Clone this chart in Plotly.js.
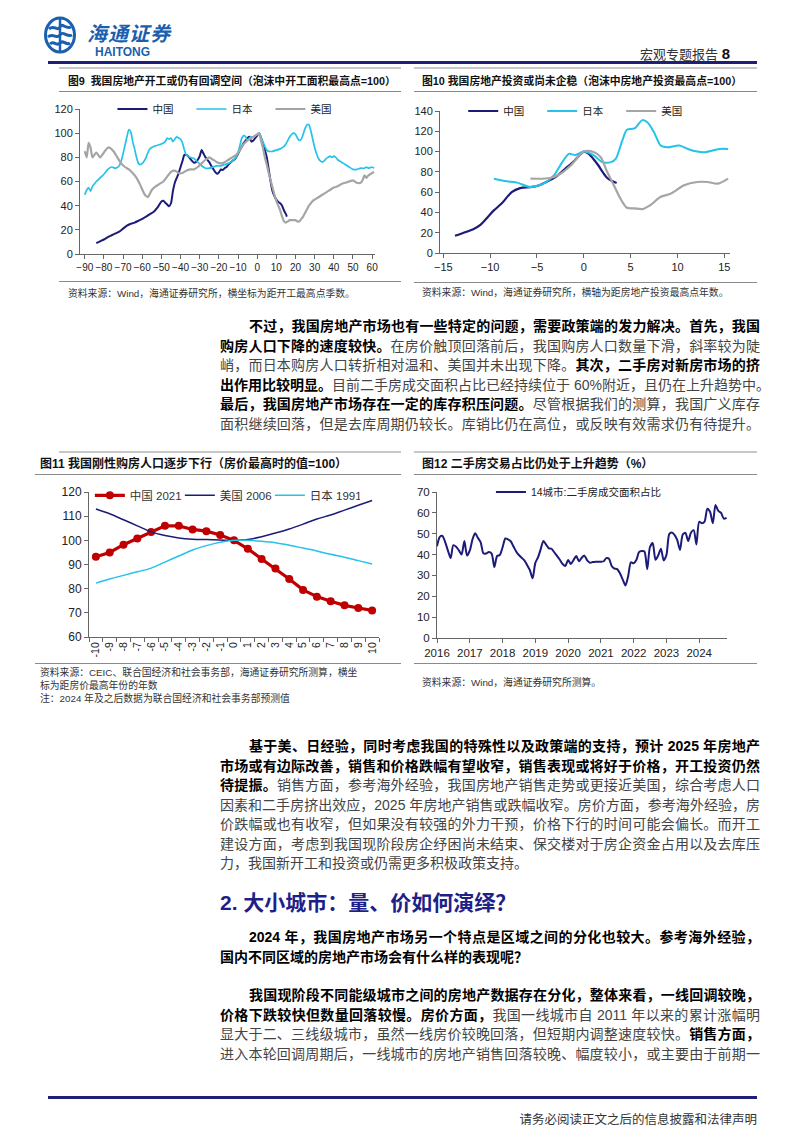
<!DOCTYPE html>
<html><head><meta charset="utf-8">
<script src="https://cdn.plot.ly/plotly-3.0.1.min.js"></script>
<style>
body{margin:0;background:#fff;}
#page{position:relative;width:802px;height:1133px;overflow:hidden;background:#fff;font-family:"Liberation Sans","Noto Sans CJK SC",sans-serif;}
.ct{position:absolute;font-weight:bold;color:#111;white-space:nowrap;line-height:14px;}
.src{position:absolute;font-size:9.8px;color:#333;white-space:nowrap;line-height:13px;}
.hl{position:absolute;height:1px;background:#8a8a8a;}
.gl{position:absolute;height:2px;background:#c8c8c8;}
.para{position:absolute;left:220px;width:540px;font-size:14px;line-height:19.5px;color:#444;}
.para div{text-align:justify;text-align-last:justify;white-space:nowrap;}
.para div.last{text-align-last:left;}
.para b{color:#000;font-weight:bold;}
.ind{padding-left:29px;}
.plot{position:absolute;}
</style></head>
<body><div id="page">
<!-- header -->
<svg style="position:absolute;left:44px;top:16px" width="32" height="38" viewBox="0 0 32 38">
 <ellipse cx="16" cy="19" rx="14.5" ry="17" fill="none" stroke="#1b5fae" stroke-width="3"/>
 <path d="M5 13 C10 8,14 16,16 11 C18 6,22 14,27 11" fill="none" stroke="#1b5fae" stroke-width="3"/>
 <path d="M4 21 C9 16,13 24,16 19 C19 14,23 22,28 19" fill="none" stroke="#1b5fae" stroke-width="3"/>
 <path d="M6 28 C10 24,13 31,16 27 C19 23,22 30,26 27" fill="none" stroke="#1b5fae" stroke-width="3"/>
 <line x1="16" y1="3" x2="16" y2="35" stroke="#1b5fae" stroke-width="2.5"/>
</svg>
<div style="position:absolute;left:87px;top:24px;font-size:20px;line-height:20px;font-weight:bold;font-style:italic;color:#1b5fae;letter-spacing:1px;">海通证券</div>
<div style="position:absolute;left:95px;top:46px;font-size:12px;line-height:12px;font-weight:bold;color:#1b5fae;">HAITONG</div>
<div style="position:absolute;left:640px;top:44px;font-size:13px;color:#333;white-space:nowrap;">宏观专题报告 <b style="font-size:15px;color:#111">8</b></div>
<div style="position:absolute;left:48px;top:61px;width:709px;height:3px;background:#1f1f7a;"></div>
<div class="gl" style="left:59px;top:67px;width:342px;"></div>
<div class="gl" style="left:414px;top:67px;width:343px;"></div>

<!-- chart 9 / 10 titles -->
<div class="ct" style="left:68px;top:74px;font-size:10.8px;">图9&nbsp;&nbsp;我国房地产开工或仍有回调空间（泡沫中开工面积最高点=100）</div>
<div class="hl" style="left:59px;top:91px;width:342px;"></div>
<div class="ct" style="left:422px;top:74px;font-size:10.8px;">图10 我国房地产投资或尚未企稳（泡沫中房地产投资最高点=100）</div>
<div class="hl" style="left:414px;top:91px;width:343px;"></div>
<div id="c9" class="plot" style="left:30px;top:65px;"></div>
<div id="c10" class="plot" style="left:405px;top:65px;"></div>
<div class="hl" style="left:59px;top:281px;width:342px;"></div>
<div class="src" style="left:68px;top:287px;">资料来源：Wind，海通证券研究所，横坐标为距开工最高点季数。</div>
<div class="hl" style="left:414px;top:282px;width:343px;"></div>
<div class="src" style="left:422px;top:286px;">资料来源：Wind，海通证券研究所，横轴为距房地产投资最高点年数。</div>

<!-- paragraph 1 -->
<div class="para" style="top:317px;">
<div class="ind"><b>不过，我国房地产市场也有一些特定的问题，需要政策端的发力解决。首先，我国</b></div>
<div><b>购房人口下降的速度较快。</b>在房价触顶回落前后，我国购房人口数量下滑，斜率较为陡</div>
<div>峭，而日本购房人口转折相对温和、美国并未出现下降。<b>其次，二手房对新房市场的挤</b></div>
<div><b>出作用比较明显。</b>目前二手房成交面积占比已经持续位于 60%附近，且仍在上升趋势中。</div>
<div><b>最后，我国房地产市场存在一定的库存积压问题。</b>尽管根据我们的测算，我国广义库存</div>
<div>面积继续回落，但是去库周期仍较长。库销比仍在高位，或反映有效需求仍有待提升。</div>
</div>

<!-- chart 11 / 12 titles -->
<div class="gl" style="left:59px;top:451px;width:342px;"></div>
<div class="gl" style="left:414px;top:451px;width:343px;"></div>
<div class="ct" style="left:40px;top:457px;font-size:12px;">图11 我国刚性购房人口逐步下行（房价最高时的值=100）</div>
<div class="hl" style="left:35px;top:474px;width:366px;"></div>
<div class="ct" style="left:422px;top:457px;font-size:12px;">图12 二手房交易占比仍处于上升趋势（%）</div>
<div class="hl" style="left:414px;top:474px;width:343px;"></div>
<div id="c11" class="plot" style="left:30px;top:448px;"></div>
<div id="c12" class="plot" style="left:405px;top:448px;"></div>
<div class="hl" style="left:35px;top:663px;width:366px;"></div>
<div class="src" style="left:40px;top:666px;">资料来源：CEIC、联合国经济和社会事务部，海通证券研究所测算，横坐<br>标为距房价最高年份的年数<br>注：2024 年及之后数据为联合国经济和社会事务部预测值</div>
<div class="hl" style="left:414px;top:663px;width:343px;"></div>
<div class="src" style="left:422px;top:676px;">资料来源：Wind，海通证券研究所测算。</div>

<!-- paragraph 2 -->
<div class="para" style="top:737px;">
<div class="ind"><b>基于美、日经验，同时考虑我国的特殊性以及政策端的支持，预计 2025 年房地产</b></div>
<div><b>市场或有边际改善，销售和价格跌幅有望收窄，销售表现或将好于价格，开工投资仍然</b></div>
<div><b>待提振。</b>销售方面，参考海外经验，我国房地产销售走势或更接近美国，综合考虑人口</div>
<div>因素和二手房挤出效应，2025 年房地产销售或跌幅收窄。房价方面，参考海外经验，房</div>
<div>价跌幅或也有收窄，但如果没有较强的外力干预，价格下行的时间可能会偏长。而开工</div>
<div>建设方面，考虑到我国现阶段房企纾困尚未结束、保交楼对于房企资金占用以及去库压</div>
<div class="last">力，我国新开工和投资或仍需更多积极政策支持。</div>
</div>

<div style="position:absolute;left:220px;top:886px;font-size:21px;font-weight:bold;color:#1f1f8a;white-space:nowrap;">2. 大小城市：量、价如何演绎？</div>

<div class="para" style="top:928px;">
<div class="ind"><b>2024 年，我国房地产市场另一个特点是区域之间的分化也较大。参考海外经验，</b></div>
<div class="last"><b>国内不同区域的房地产市场会有什么样的表现呢？</b></div>
</div>
<div class="para" style="top:986px;">
<div class="ind"><b>我国现阶段不同能级城市之间的房地产数据存在分化，整体来看，一线回调较晚，</b></div>
<div><b>价格下跌较快但数量回落较慢。房价方面，</b>我国一线城市自 2011 年以来的累计涨幅明</div>
<div>显大于二、三线级城市，虽然一线房价较晚回落，但短期内调整速度较快。<b>销售方面，</b></div>
<div>进入本轮回调周期后，一线城市的房地产销售回落较晚、幅度较小，或主要由于前期一</div>
</div>

<div style="position:absolute;left:48px;top:1096px;width:709px;height:3px;background:#1f1f7a;"></div>
<div style="position:absolute;right:45px;top:1109px;font-size:12.5px;color:#333;white-space:nowrap;">请务必阅读正文之后的信息披露和法律声明</div>
</div>

<script>
// ---------- DATA ----------
// Chart 9: quarters from peak of housing starts (peak = 100)
const c9_cn_x = [-84,-82,-80,-78,-76,-74,-72,-70,-68,-66,-64,-62,-60,-58,-56,-54,-52,-50,-49,-48,-47,-46,-45,-44,-43,-42,-41,-40,-39,-38,-37,-36,-35,-34,-33,-32,-31,-30,-29,-28,-27,-26,-25,-24,-23,-22,-21,-20,-19,-18,-17,-16,-15,-14,-13,-12,-11,-10,-9,-8,-7,-6,-5,-4,-3,-2,-1,0,1,2,3,4,5,6,7,8,9,10,11,12,13,14,15,15.5];
const c9_cn_y = [9,10.5,12,14,15.5,17,18.5,21,23.5,25,26,27.5,29,31,33,35,38.5,43.5,44,42.5,41,39.5,42,52,59,63,67,72,77,82,82,81,79,77,75.5,76,78,81,86,83,80,78,76,73,70.5,68,66.5,67.5,70,69.5,71,72,74,75.5,77,78,80,83,86,89,92,94,96,97,93,94,96,98,100,96,91,86,80,70,60,52,48,45,43,42,40,36,33,31];
const c9_jp_x = [-90,-89,-88,-87,-86,-85,-84,-82,-80,-78,-76,-74,-72,-71,-70,-69,-68,-67,-66,-65,-64,-63,-62,-61,-60,-59,-58,-57,-56,-54,-52,-50,-48,-47,-46,-45,-44,-43,-42,-41,-40,-39,-38,-37,-36,-35,-33,-31,-29,-27,-25,-23,-21,-19,-17,-15,-13,-11,-10,-9,-8,-7,-6,-5,-4,-3,-2,-1,0,1,2,3,4,5,6,8,10,12,14,15,16,17,18,19,20,21,22,23,24,25,26,27,28,29,30,31,32,33,34,35,36,37,38,39,40,41,42,43,44,46,48,50,52,54,56,57,58,60,61];
const c9_jp_y = [49,53,55,52,56,58,60,63,66,70,72,71,73,77,83,90,97,103,101,93,87,80,75,74,75,77,80,84,87,89,90,91,93,96,95,96,93,95,97,96,95,92,86,82,81,80,79,76,73,71,71,72,73,73,74,75,77,80,84,90,96,98,97,94,96,97,97,98,99,100,97,93,89,86,85,85,86,87,89,91,94,97,99,100,99,96,94,95,99,104,107,107,102,95,88,83,79,77,76,77,79,80,81,80,81,80,78,77,76,74,72,70,70,71,71,72,71,72,71];
const c9_us_x = [-90,-89,-88,-87,-86,-85,-84,-83,-82,-80,-78,-77,-75,-73,-71,-69,-67,-65,-63,-61,-59,-58,-57,-56,-55,-53,-51,-49,-47,-45,-43,-41,-39,-37,-35,-33,-31,-29,-27,-25,-23,-21,-19,-17,-15,-13,-11,-9,-7,-5,-3,-1,0,1,2,3,4,5,6,7,8,9,10,11,12,13,14,15,16,17,18,19,20,21,22,23,24,25,26,27,28,29,30,32,34,36,38,40,42,44,46,48,50,52,54,55,56,57,58,59,60,61];
const c9_us_y = [85,80,92,88,80,82,84,82,80,84,88,88,85,80,75,72,70,67,63,57,50,48,47,50,53,56,58,60,64,68,69,67,67,69,70,70,72,75,78,80,78,76,75,76,78,80,82,86,91,94,96,98,99,100,94,88,80,74,67,61,55,49,44,40,36,31,27,26,27,28,28,28,28,27,27,29,31,34,37,40,42,44,45,47,49,51,53,55,56,58,59,60,61,59,59,61,65,63,65,66,67,68];
const c9_xticks = [-90,-80,-70,-60,-50,-40,-30,-20,-10,0,10,20,30,40,50,60];

// Chart 10: years from peak of real-estate investment (peak = 100)
const c10_cn_x = [-13.75,-12.5,-11.8,-11,-10.2,-9.6,-8.75,-7.7,-6.8,-5.7,-5,-4,-3,-2,-1,0,0.5,1,1.5,2,2.5,3,3.5];
const c10_cn_y = [17,21,23.5,28,36,42,49,60,64,65,66,70,75,83,91,100,98,93,87,80,74,71,69];
const c10_jp_x = [-9.6,-8.2,-7.1,-5.7,-4.1,-3.2,-2.3,-1.6,-0.9,0,1.1,1.96,2.9,3.4,4.1,4.6,5.4,6.25,6.8,7.5,8.2,8.9,10.2,11.1,12.1,12.9,13.75,14.5,15.4];
const c10_jp_y = [73.3,70.7,69.4,65,69.4,76.5,89.6,97.7,96.7,100,96,89.6,89.6,92.8,110.7,121.5,122.8,131,128.7,118.9,105.9,104.2,105.9,102.6,100,99.3,101,102.6,102.6];
const c10_us_x = [-5.7,-3.6,-2.5,-1.4,0,1.1,1.8,2.5,3.2,3.9,4.6,5.4,6.25,7.1,8.2,9.3,10.7,12.1,13.2,14.3,15.4];
const c10_us_y = [73.3,73.9,78.2,86.3,100,99.3,94.5,79.8,66.8,53.7,44.6,44,43.3,47.2,55.4,58.6,66.8,70,70,68.4,73.3];

// Chart 11: years from house-price peak (value at peak = 100)
const c11_x = ['-10','-9','-8','-7','-6','-5','-4','-3','-2','-1','0','1','2','3','4','5','6','7','8','9','10'];
const c11_cn = [93.2,95,98.2,100.8,103.4,106,106,104.5,103.8,102.2,100,96.5,92.3,88.3,84,79.5,76.7,74.8,73.1,72,71];
const c11_us = [113,111,108.5,106,103.5,102,101,100.5,100.3,100.1,100,100.3,101.5,103,104.7,106.7,108.8,110.5,112.5,114.5,116.5];
const c11_jp = [82.3,84,85.5,87,88.5,91,93.5,96,97.8,99.2,100,100,99.6,99,98,96.8,95.6,94.2,93,91.6,90.2];

// Chart 12: 14 cities, second-hand share of transaction area (%), monthly from 2016-01
const c12_start = [2016, 1];
const c12_vals = [44,48.5,49,46,42,38.3,44.5,43.7,42,40,46.5,39.5,
  42,47.5,50.2,48,46,40.6,40.5,41.2,40.5,34,39.3,39.8,
  43.5,47.7,47.3,46.4,44,41.5,39.8,38.5,37.2,35,32.5,28.6,
  36,38.8,42.5,46.5,44.8,43,42.8,41,39.3,37.5,35.5,34.5,
  37.4,35.5,37.3,39.3,36.8,38.5,39.5,37.2,36.1,36.4,36.6,36.6,
  36.6,36.8,38.3,38,34.5,33.3,33,31,28,25.2,29.8,36.3,
  35.8,37.5,41.2,41.7,41.5,33,43.5,45.5,37.5,39.6,42.8,37.2,
  39.8,49.8,50.6,49.5,47,42.2,49.5,50.4,46.5,50.5,51.7,44.8,
  55.7,55,55.8,62,60.5,55,63.8,61,60,57.2,57.6];
const c12_years = ['2016','2017','2018','2019','2020','2021','2022','2023','2024'];

// ---------- STYLE ----------
const NAVY = '#1c1c78', CYAN = '#25c2ea', GRAY = '#a5a5a5', RED = '#c00000';
const FONT = '"Liberation Sans","Noto Sans CJK SC",sans-serif';
const AX = {showline:true, linecolor:'#666', linewidth:1, ticks:'outside', ticklen:4, tickcolor:'#666', showgrid:false, zeroline:false, tickfont:{size:11, color:'#222'}, fixedrange:true};
function lay(w,h,m,leg){
  return {width:w,height:h,margin:m,paper_bgcolor:'rgba(0,0,0,0)',plot_bgcolor:'rgba(0,0,0,0)',
    font:{family:FONT,size:11,color:'#222'},showlegend:true,
    legend:Object.assign({orientation:'h',xanchor:'left',yanchor:'middle',bgcolor:'rgba(0,0,0,0)',
      font:{size:10.5,color:'#222'},itemwidth:30,entrywidthmode:'pixels'},leg)};
}
const cfg = {displayModeBar:false, staticPlot:true};

// Chart 9
Plotly.newPlot('c9', [
  {x:c9_cn_x,y:c9_cn_y,name:'中国',mode:'lines',line:{color:NAVY,width:2,shape:'spline',smoothing:0.6}},
  {x:c9_jp_x,y:c9_jp_y,name:'日本',mode:'lines',line:{color:CYAN,width:1.7,shape:'spline',smoothing:0.6}},
  {x:c9_us_x,y:c9_us_y,name:'美国',mode:'lines',line:{color:GRAY,width:2.2,shape:'spline',smoothing:0.6}}
], Object.assign(lay(370,215,{l:50,r:25,t:44,b:26},{x:0.11,y:1,entrywidth:34}),{
  xaxis:Object.assign({},AX,{range:[-92.5,61.5],tickvals:c9_xticks,tickangle:0,tickfont:{size:10,color:'#222'}}),
  yaxis:Object.assign({},AX,{range:[0,120],dtick:20})
}), cfg);

// Chart 10
Plotly.newPlot('c10', [
  {x:c10_cn_x,y:c10_cn_y,name:'中国',mode:'lines',line:{color:NAVY,width:2.2,shape:'spline',smoothing:0.8}},
  {x:c10_jp_x,y:c10_jp_y,name:'日本',mode:'lines',line:{color:CYAN,width:2,shape:'spline',smoothing:0.8}},
  {x:c10_us_x,y:c10_us_y,name:'美国',mode:'lines',line:{color:GRAY,width:2.2,shape:'spline',smoothing:0.8}}
], Object.assign(lay(380,215,{l:35,r:55,t:46,b:27},{x:0.08,y:1,entrywidth:34}),{
  xaxis:Object.assign({},AX,{range:[-15.35,15.6],dtick:5,tick0:0,tickangle:0}),
  yaxis:Object.assign({},AX,{range:[0,140],dtick:20})
}), cfg);

// Chart 11
Plotly.newPlot('c11', [
  {x:c11_x,y:c11_cn,name:'中国 2021',mode:'lines+markers',line:{color:RED,width:3.2},marker:{color:RED,size:8,symbol:'circle'}},
  {x:c11_x,y:c11_us,name:'美国 2006',mode:'lines',line:{color:NAVY,width:1.5,shape:'spline'}},
  {x:c11_x,y:c11_jp,name:'日本 1991',mode:'lines',line:{color:CYAN,width:1.5,shape:'spline'}}
], Object.assign(lay(370,215,{l:59,r:21,t:44,b:26},{x:0.003,y:0.977,entrywidth:45,font:{size:11.5,color:'#333'}}),{
  xaxis:Object.assign({},AX,{type:'category',range:[-0.5,20.5],tickson:'boundaries',tickangle:-90,tickfont:{size:10.5,color:'#222'}}),
  yaxis:Object.assign({},AX,{range:[60,120],dtick:10,tickfont:{size:12,color:'#222'}})
}), cfg);

// Chart 12
const c12_x = c12_vals.map((v,i)=>{const t=(c12_start[0]*12+c12_start[1]-1)+i;const y=Math.floor(t/12),m=t%12+1;return y+'-'+(m<10?'0':'')+m+'-01';});
Plotly.newPlot('c12', [
  {x:c12_x,y:c12_vals,name:'14城市:二手房成交面积占比',mode:'lines',line:{color:NAVY,width:2,shape:'spline',smoothing:0.7}}
], Object.assign(lay(380,215,{l:32,r:58,t:44,b:25},{x:0.186,y:1,font:{size:10.5,color:'#222'}}),{
  xaxis:Object.assign({},AX,{type:'date',range:['2016-01-01','2024-11-06'],tickvals:c12_years.map(y=>y+'-01-01'),ticktext:c12_years,tickangle:0,tickfont:{size:11.5,color:'#222'}}),
  yaxis:Object.assign({},AX,{range:[0,70],dtick:10,tickfont:{size:11.5,color:'#222'}})
}), cfg);
</script>
</body></html>
